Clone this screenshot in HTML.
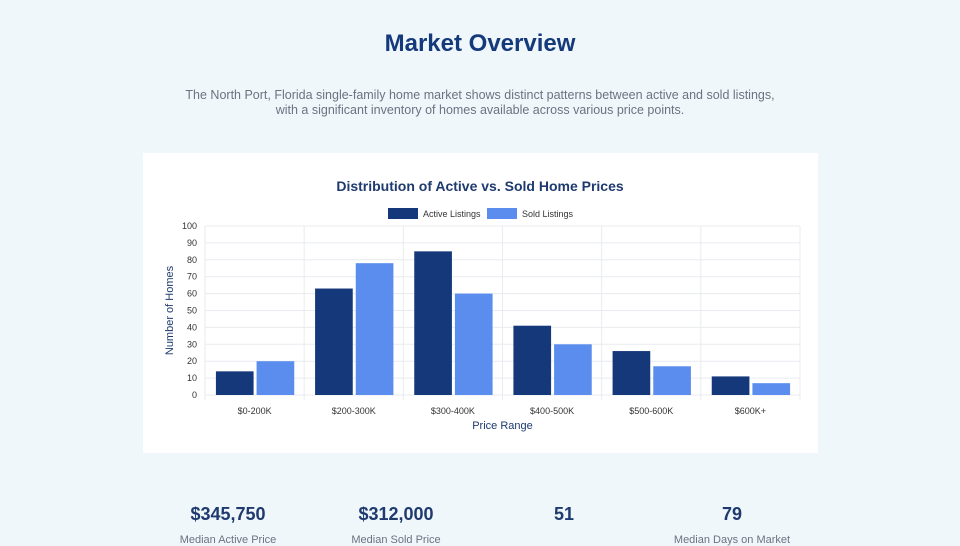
<!DOCTYPE html>
<html><head><meta charset="utf-8"><style>
body{margin:0;width:960px;height:540px;overflow:hidden;background:#f0f7fb;font-family:"Liberation Sans",sans-serif;position:relative}
h1{position:absolute;top:30px;left:0;width:960px;text-align:center;margin:0;font-size:24px;color:#143a7b;font-weight:bold}
.desc{position:absolute;top:88px;left:0;width:960px;text-align:center;font-size:12.5px;line-height:15px;color:#6b7280}
.card{position:absolute;left:143px;top:153px;width:675px;height:300px;background:#fff}
.stat{position:absolute;top:504px;width:160px;text-align:center;font-size:18px;font-weight:bold;color:#1e3a6e}
.lab{position:absolute;top:534px;width:160px;text-align:center;font-size:11px;color:#6b7280}
</style></head><body>
<h1>Market Overview</h1>
<div class="desc">The North Port, Florida single-family home market shows distinct patterns between active and sold listings,<br>with a significant inventory of homes available across various price points.</div>
<div class="card">
<svg id="chart" width="675" height="300"></svg>
</div>
<div class="stat" style="left:148px">$345,750</div>
<div class="stat" style="left:316px">$312,000</div>
<div class="stat" style="left:484px">51</div>
<div class="stat" style="left:652px">79</div>
<div class="lab" style="left:148px">Median Active Price</div>
<div class="lab" style="left:316px">Median Sold Price</div>
<div class="lab" style="left:652px">Median Days on Market</div>
<script>
const categories=["$0-200K","$200-300K","$300-400K","$400-500K","$500-600K","$600K+"];
const activeValues=[14,63,85,41,26,11];
const soldValues=[20,78,60,30,17,7];
const yTicks=[0,10,20,30,40,50,60,70,80,90,100];
const NS="http://www.w3.org/2000/svg";
const svg=document.getElementById('chart');
const L=62,R=657,T=73,B=242,yMax=100;
const bw=(R-L)/categories.length;
const y=v=>B-(v/yMax)*(B-T);
const x=i=>L+i*bw;
function mk(tag,attrs,txt){const e=document.createElementNS(NS,tag);for(const k in attrs)e.setAttribute(k,attrs[k]);if(txt!=null)e.textContent=txt;svg.appendChild(e);return e;}
let e;
e=mk('text',{x:337,y:38,'text-anchor':'middle','font-size':14,'font-weight':'bold',fill:'#1e3a6e'},'Distribution of Active vs. Sold Home Prices');


yTicks.forEach(t=>{
 e=mk('line',{x1:L,x2:R,y1:y(t),y2:y(t),stroke:'#e8ebef','stroke-width':1});
 
 
 e=mk('text',{x:L-8,y:y(t)+3,'text-anchor':'end','font-size':9,fill:'#333'},t);
 
 
});
for(let i=0;i<=categories.length;i++){
 e=mk('line',{x1:x(i),x2:x(i),y1:T,y2:B+5,stroke:'#e8ebef','stroke-width':1});
 
 
}
categories.forEach((c,i)=>{
 const w=bw*0.8/2, x0=x(i)+bw*0.1+1;
 e=mk('rect',{x:x0,y:y(activeValues[i]),width:w-2,height:B-y(activeValues[i]),fill:'#14387a'});
 
 
 e=mk('rect',{x:x0+w+1,y:y(soldValues[i]),width:w-2,height:B-y(soldValues[i]),fill:'#5b8def'});
 
 
 e=mk('text',{x:x(i)+bw/2,y:B+19,'text-anchor':'middle','font-size':9,fill:'#333'},c);
 
 
});
e=mk('text',{x:(L+R)/2,y:B+34,'text-anchor':'middle','font-size':11,fill:'#1e3a6e'},'Price Range');


e=mk('text',{x:0,y:0,'text-anchor':'middle','font-size':11,fill:'#1e3a6e',transform:`translate(30,${(T+B)/2}) rotate(-90)`},'Number of Homes');


e=mk('rect',{x:245,y:55,width:30,height:11,fill:'#14387a'});


e=mk('text',{x:280,y:64,'font-size':9,fill:'#333'},'Active Listings');


e=mk('rect',{x:344,y:55,width:30,height:11,fill:'#5b8def'});


e=mk('text',{x:379,y:64,'font-size':9,fill:'#333'},'Sold Listings');


</script>
</body></html>
